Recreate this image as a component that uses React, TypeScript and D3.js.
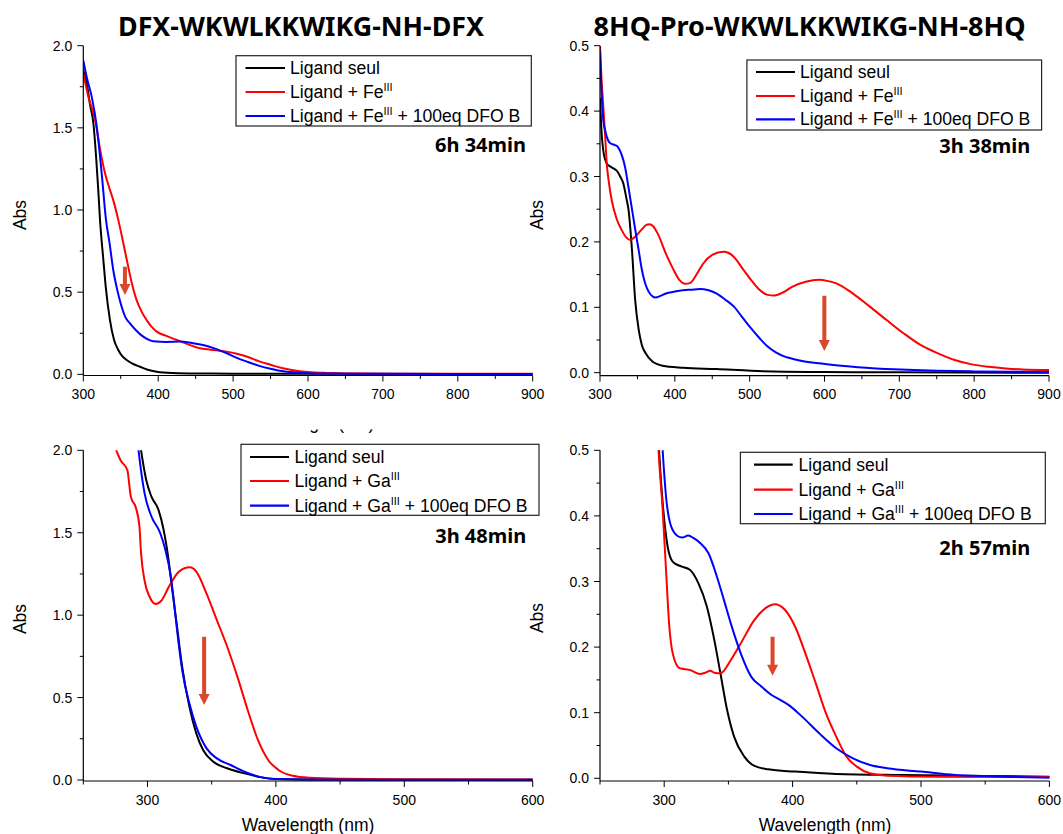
import React from "react";
import * as d3 from "d3";

// ---------- DATA (wavelength nm, absorbance) ----------
const p1Black: [number, number][] = [[300,1.85],[305,1.76],[309,1.64],[313.4,1.53],[317,1.33],[320,1.12],[322.3,0.94],[326.7,0.7],[330,0.53],[335.6,0.33],[341,0.21],[346.7,0.148],[352,0.11],[357.9,0.087],[365,0.066],[375.7,0.046],[386,0.028],[398,0.016],[420,0.008],[450,0.005],[500,0.004],[600,0.003],[900,0.002]];
const p1Red: [number, number][] = [[300,1.83],[306.7,1.69],[315.6,1.55],[322,1.38],[329,1.223],[335,1.13],[340,1.06],[346.7,0.94],[352,0.83],[357.9,0.7],[364,0.57],[371.3,0.45],[378,0.38],[384.6,0.33],[391,0.29],[398,0.26],[410,0.235],[424.7,0.209],[440,0.182],[455.8,0.158],[470,0.15],[491.4,0.138],[505,0.125],[520,0.105],[536,0.077],[550,0.058],[565,0.038],[580,0.025],[600,0.014],[625,0.008],[650,0.005],[700,0.004],[900,0.003]];
const p1Blue: [number, number][] = [[300,1.91],[305,1.8],[311.2,1.69],[317.9,1.51],[324.6,1.22],[330.3,0.94],[335,0.8],[340,0.635],[345,0.52],[351.3,0.41],[356,0.35],[362.3,0.31],[370,0.27],[380,0.229],[390,0.205],[398,0.199],[410,0.197],[429.4,0.199],[445,0.19],[460,0.178],[475,0.158],[491.4,0.128],[505,0.1],[520,0.075],[536,0.05],[550,0.034],[565,0.02],[580,0.012],[600,0.007],[650,0.004],[700,0.003],[900,0.002]];

const p2Black: [number, number][] = [[300,0.42],[302,0.37],[305,0.335],[309,0.32],[314,0.315],[318,0.3125],[323,0.308],[327,0.3],[331,0.29],[335.7,0.264],[338,0.25],[342.7,0.188],[347,0.111],[351.8,0.065],[356,0.042],[361,0.0296],[370,0.017],[383.6,0.0107],[411,0.0076],[456,0.0056],[501.7,0.003],[547,0.0015],[600,0.001],[700,0.0005],[900,0]];
const p2Red: [number, number][] = [[300,0.5],[302,0.45],[304.4,0.407],[307,0.36],[309,0.32],[312,0.29],[315.6,0.264],[322.3,0.235],[329,0.218],[335,0.207],[340.4,0.203],[347,0.208],[355,0.218],[362,0.226],[366,0.227],[371,0.224],[377,0.213],[388,0.182],[398,0.158],[406,0.142],[414,0.136],[420,0.137],[430,0.152],[438,0.167],[450,0.18],[465,0.185],[472,0.183],[479,0.177],[490,0.16],[501.7,0.142],[512,0.128],[524,0.119],[533.5,0.118],[545,0.123],[556,0.131],[575,0.139],[592.5,0.142],[605,0.14],[615,0.137],[638,0.121],[660.6,0.101],[683,0.0805],[706,0.06],[728.8,0.042],[751.5,0.0296],[774,0.0194],[797,0.0127],[819.6,0.009],[842,0.0066],[865,0.005],[900,0.004]];
const p2Blue: [number, number][] = [[300,0.49],[302,0.43],[304.4,0.386],[307,0.37],[310.9,0.355],[315,0.35],[320,0.348],[324,0.345],[329,0.333],[333.4,0.315],[338,0.284],[342.7,0.25],[347.2,0.218],[352,0.185],[356,0.157],[360,0.138],[365,0.124],[370,0.117],[374.5,0.115],[380,0.117],[388,0.121],[400,0.124],[411,0.126],[422,0.127],[433.5,0.128],[445,0.126],[456,0.121],[467,0.112],[479,0.101],[490,0.085],[501.7,0.068],[513,0.053],[524,0.04],[535,0.031],[547,0.0245],[558,0.021],[570,0.018],[592.5,0.0143],[615,0.0115],[638,0.009],[660,0.007],[683,0.0056],[720,0.004],[751,0.003],[800,0.002],[900,0.001]];

const p3Black: [number, number][] = [[290,2.3],[295,2.0],[299,1.82],[303,1.72],[308.5,1.64],[312.5,1.52],[316.5,1.33],[319,1.17],[323,0.93],[327,0.687],[332.6,0.445],[338,0.283],[343.3,0.182],[351.3,0.111],[362,0.071],[375.5,0.04],[389,0.016],[399.6,0.006],[420,0.003],[500,0.002],[600,0.001]];
const p3Red: [number, number][] = [[270,2.15],[275.7,2.0],[279,1.94],[284.3,1.88],[287,1.72],[291,1.65],[293.7,1.54],[295,1.375],[297.7,1.21],[301.7,1.11],[306.3,1.068],[311,1.09],[316.5,1.17],[324.5,1.264],[333,1.29],[338,1.264],[346,1.13],[354,0.97],[362,0.81],[370,0.627],[378,0.425],[386,0.243],[394,0.121],[402,0.061],[413,0.026],[426,0.014],[453,0.008],[500,0.005],[600,0.003]];
const p3Blue: [number, number][] = [[289,2.3],[293,2.0],[297.7,1.74],[303,1.6],[309.8,1.5],[313.8,1.4],[317.8,1.25],[320.5,1.09],[323,0.91],[327,0.667],[332.6,0.465],[338,0.324],[346,0.192],[354,0.131],[364.7,0.091],[375.5,0.05],[389,0.016],[399.6,0.006],[420,0.003],[500,0.002],[600,0.001]];

const p4Black: [number, number][] = [[293,0.62],[296,0.5],[298.8,0.42],[302.7,0.353],[306.7,0.33],[313.3,0.323],[320,0.318],[326.6,0.2975],[333.2,0.262],[338.5,0.216],[343.8,0.16],[349,0.104],[354.4,0.0636],[362.4,0.033],[370.3,0.0188],[381,0.0137],[402,0.0102],[434,0.0066],[487,0.005],[550,0.0035],[600,0.0025]];
const p4Red: [number, number][] = [[293,0.62],[295.6,0.5],[298.8,0.41],[301.4,0.318],[304,0.231],[306.7,0.19],[312,0.168],[320,0.165],[328,0.159],[332,0.161],[335.9,0.164],[339,0.161],[343.8,0.16],[351.8,0.18],[359.7,0.206],[370.3,0.2416],[381,0.262],[386,0.2655],[394,0.257],[402,0.231],[410,0.19],[418,0.145],[426,0.099],[434,0.0636],[442,0.033],[450,0.0178],[460,0.0076],[473.7,0.004],[513,0.0025],[600,0.002]];
const p4Blue: [number, number][] = [[296,0.6],[298.8,0.5],[301.4,0.43],[305.4,0.384],[310.7,0.369],[314,0.367],[318.6,0.37],[323,0.366],[328,0.3586],[334.5,0.343],[341,0.3077],[346.5,0.272],[351.8,0.2365],[359.7,0.19],[367.7,0.155],[375.6,0.14],[383.6,0.127],[390,0.12],[396.8,0.112],[407.4,0.094],[420.7,0.0687],[434,0.0458],[447,0.0305],[460.4,0.0203],[473.7,0.0153],[500,0.0102],[526.7,0.005],[566,0.0025],[600,0.001]];

// Ticks
const xTicksWide = [300, 400, 500, 600, 700, 800, 900];
const xMinorWide = [350, 450, 550, 650, 750, 850];
const xTicksNarrow = [300, 400, 500, 600];
const xMinorNarrow = [250, 350, 450, 550];
const yTicks2 = [0, 0.5, 1.0, 1.5, 2.0];
const yMinor2 = [0.25, 0.75, 1.25, 1.75];
const yTicks05 = [0, 0.1, 0.2, 0.3, 0.4, 0.5];
const yMinor05 = [0.05, 0.15, 0.25, 0.35, 0.45];

// Text
const titles = ["DFX-WKWLKKWIKG-NH-DFX", "8HQ-Pro-WKWLKKWIKG-NH-8HQ"];
const times = ["6h 34min", "3h 38min", "3h 48min", "2h 57min"];
const metals = ["Fe", "Fe", "Ga", "Ga"];
// arrows: [wavelength, abs top, abs bottom]
const arrows: [number, number, number][] = [[355.6, 0.655, 0.483], [599.8, 0.1177, 0.0332], [344.1, 0.869, 0.455], [384.4, 0.2158, 0.1564]];

const COLORS = ["#000000", "#ff0000", "#0000ff"];
const ARROW = "#d9482b";
const SANS = "'Liberation Sans', Arial, sans-serif";
const BOLD = "'Noto Sans', 'Open Sans', sans-serif";

type Panel = {
  xr: [number, number]; xd: [number, number]; xt: number[]; xm: number[];
  yTop: number; yZero: number; yAxis: number; yMax: number; yt: number[]; ym: number[];
  series: [number, number][][];
  leg: { x: number; y: number; w: number; h: number; rows: number[]; lx0: number; lx1: number; tx: number };
  time: { x: number; y: number }; absX: number; absY: number;
  title?: { x: number; y: number; len: number };
  xLabel?: { x: number; y: number };
  mask?: { x: number; y: number; w: number; h: number };
};

const panels: Panel[] = [
  {
    xr: [83.3, 532.7], xd: [300, 900], xt: xTicksWide, xm: xMinorWide,
    yTop: 45.7, yZero: 374.3, yAxis: 375.5, yMax: 2, yt: yTicks2, ym: yMinor2,
    series: [p1Black, p1Red, p1Blue],
    leg: { x: 236, y: 55.7, w: 295.3, h: 70.3, rows: [68, 92, 116], lx0: 245.5, lx1: 285, tx: 290 },
    time: { x: 526, y: 151.7 }, absX: 26, absY: 215,
    title: { x: 301, y: 36, len: 366 },
    xLabel: { x: 308, y: 429 }, mask: { x: 175, y: 396.8, w: 250, h: 32.6 },
  },
  {
    xr: [600, 1049], xd: [300, 900], xt: xTicksWide, xm: xMinorWide,
    yTop: 45.7, yZero: 372.7, yAxis: 375.7, yMax: 0.5, yt: yTicks05, ym: yMinor05,
    series: [p2Black, p2Red, p2Blue],
    leg: { x: 746.9, y: 60, w: 294.7, h: 70, rows: [72, 96, 119.3], lx0: 756, lx1: 795, tx: 800 },
    time: { x: 1030.3, y: 153.3 }, absX: 543, absY: 215,
    title: { x: 809.6, y: 36, len: 432 },
  },
  {
    xr: [83.3, 532.7], xd: [250, 600], xt: xTicksNarrow, xm: xMinorNarrow,
    yTop: 450.3, yZero: 780, yAxis: 781, yMax: 2, yt: yTicks2, ym: yMinor2,
    series: [p3Black, p3Red, p3Blue],
    leg: { x: 241, y: 444.3, w: 298, h: 71, rows: [457, 481, 505.7], lx0: 250, lx1: 289, tx: 294.4 },
    time: { x: 526.2, y: 542.7 }, absX: 26, absY: 619,
    xLabel: { x: 308, y: 831 },
  },
  {
    xr: [600, 1049.4], xd: [250, 600], xt: xTicksNarrow, xm: xMinorNarrow,
    yTop: 450.3, yZero: 778.3, yAxis: 781, yMax: 0.5, yt: yTicks05, ym: yMinor05,
    series: [p4Black, p4Red, p4Blue],
    leg: { x: 740.4, y: 452.3, w: 304.9, h: 71.4, rows: [464.7, 489.7, 514], lx0: 754, lx1: 792.7, tx: 798.5 },
    time: { x: 1030.3, y: 555 }, absX: 543, absY: 618,
    xLabel: { x: 825, y: 831 },
  },
];

function PanelView({ p, i }: { p: Panel; i: number }) {
  const x = d3.scaleLinear().domain(p.xd).range(p.xr);
  const y = d3.scaleLinear().domain([0, p.yMax]).range([p.yZero, p.yTop]);
  const line = d3.line<[number, number]>().x((d) => x(d[0])).y((d) => y(d[1])).curve(d3.curveMonotoneX);
  const fmt = d3.format(".1f");
  const clipId = `clip${i}`;
  const m = metals[i];
  const [ax, ay0, ay1] = arrows[i];
  const axp = x(ax), ayt = y(ay0), ayb = y(ay1);
  const hw = 2, hh = 5.5, hl = 11;
  const arrowPath = `M${axp - hw},${ayt} L${axp + hw},${ayt} L${axp + hw},${ayb - hl} L${axp + hh},${ayb - hl} L${axp},${ayb} L${axp - hh},${ayb - hl} L${axp - hw},${ayb - hl} Z`;
  const labels = [
    { main: "Ligand seul" },
    { main: `Ligand + ${m}`, sup: "III" },
    { main: `Ligand + ${m}`, sup: "III", tail: " + 100eq DFO B" },
  ];
  return (
    <g>
      <defs>
        <clipPath id={clipId}>
          <rect x={p.xr[0]} y={p.yTop} width={p.xr[1] - p.xr[0] + 1} height={p.yAxis - p.yTop} />
        </clipPath>
      </defs>
      {p.title && (
        <text x={p.title.x} y={p.title.y} textAnchor="middle" fontFamily={BOLD} fontWeight={700} fontSize={27}
          textLength={p.title.len} lengthAdjust="spacingAndGlyphs">{titles[i]}</text>
      )}
      {p.xLabel && (
        <text x={p.xLabel.x} y={p.xLabel.y} textAnchor="middle" fontFamily={SANS} fontSize={17.5}>Wavelength (nm)</text>
      )}
      {p.mask && <rect x={p.mask.x} y={p.mask.y} width={p.mask.w} height={p.mask.h} fill="#fff" />}
      <g clipPath={`url(#${clipId})`}>
        {p.series.map((s, k) => (
          <path key={k} d={line(s) || ""} fill="none" stroke={COLORS[k]} strokeWidth={2} strokeLinejoin="round" />
        ))}
      </g>
      <line x1={p.xr[0]} x2={p.xr[1]} y1={p.yAxis} y2={p.yAxis} stroke="#000" strokeWidth={1.2} />
      <line x1={p.xr[0]} x2={p.xr[0]} y1={p.yTop} y2={p.yAxis} stroke="#000" strokeWidth={1.2} />
      {p.xt.map((t) => (
        <g key={`xt${t}`}>
          <line x1={x(t)} x2={x(t)} y1={p.yAxis} y2={p.yAxis + 6} stroke="#000" />
          <text x={x(t)} y={p.yAxis + 23.5} textAnchor="middle" fontFamily={SANS} fontSize={14}>{t}</text>
        </g>
      ))}
      {p.xm.map((t) => (
        <line key={`xm${t}`} x1={x(t)} x2={x(t)} y1={p.yAxis} y2={p.yAxis + 3.5} stroke="#000" />
      ))}
      {p.yt.map((t) => (
        <g key={`yt${t}`}>
          <line x1={p.xr[0] - 6} x2={p.xr[0]} y1={y(t)} y2={y(t)} stroke="#000" />
          <text x={p.xr[0] - 11} y={y(t) + 5} textAnchor="end" fontFamily={SANS} fontSize={14}>{fmt(t)}</text>
        </g>
      ))}
      {p.ym.map((t) => (
        <line key={`ym${t}`} x1={p.xr[0] - 3.5} x2={p.xr[0]} y1={y(t)} y2={y(t)} stroke="#000" />
      ))}
      <text transform={`translate(${p.absX},${p.absY}) rotate(-90)`} textAnchor="middle" fontFamily={SANS} fontSize={17.5}>Abs</text>
      <rect x={p.leg.x} y={p.leg.y} width={p.leg.w} height={p.leg.h} fill="#fff" stroke="#222" strokeWidth={1.2} />
      {labels.map((l, k) => (
        <g key={`lg${k}`}>
          <line x1={p.leg.lx0} x2={p.leg.lx1} y1={p.leg.rows[k]} y2={p.leg.rows[k]} stroke={COLORS[k]} strokeWidth={2.2} />
          <text x={p.leg.tx} y={p.leg.rows[k] + 6} fontFamily={SANS} fontSize={17.6}>
            {l.main}
            {l.sup && <tspan dy={-7} fontSize={11}>{l.sup}</tspan>}
            {l.tail && <tspan dy={7} fontSize={17.6}>{l.tail}</tspan>}
          </text>
        </g>
      ))}
      <text x={p.time.x} y={p.time.y} textAnchor="end" fontFamily={BOLD} fontWeight={700} fontSize={19}
        textLength={91} lengthAdjust="spacingAndGlyphs">{times[i]}</text>
      <path d={arrowPath} fill={ARROW} />
    </g>
  );
}

export default function App() {
  return (
    <svg width={1063} height={834} viewBox="0 0 1063 834"
      style={{ position: "absolute", left: 0, top: 0, background: "#fff", display: "block" }}>
      <rect x={0} y={0} width={1063} height={834} fill="#fff" />
      {panels.map((p, i) => <PanelView key={i} p={p} i={i} />)}
    </svg>
  );
}
